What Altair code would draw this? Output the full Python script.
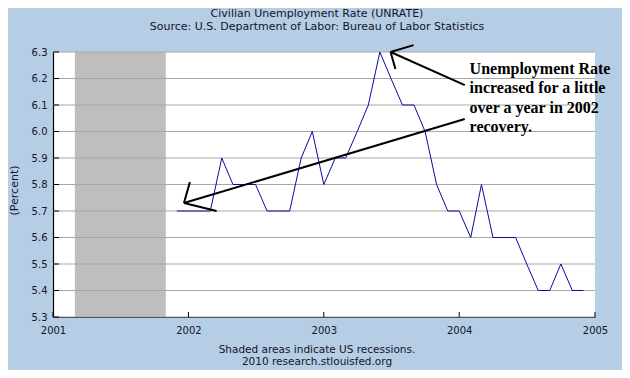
import altair as alt
import pandas as pd

# --- data -------------------------------------------------------------
months = pd.date_range("2001-12-01", "2004-12-01", freq="MS").strftime("%Y-%m-%d").tolist()
unrate = [5.7,
          5.7, 5.7, 5.7, 5.9, 5.8, 5.8, 5.8, 5.7, 5.7, 5.7, 5.9, 6.0,
          5.8, 5.9, 5.9, 6.0, 6.1, 6.3, 6.2, 6.1, 6.1, 6.0, 5.8, 5.7,
          5.7, 5.6, 5.8, 5.6, 5.6, 5.6, 5.5, 5.4, 5.4, 5.5, 5.4, 5.4]

recession_start = ["2001-03-01"]
recession_end = ["2001-11-01"]

y_ticks = [5.3, 5.4, 5.5, 5.6, 5.7, 5.8, 5.9, 6.0, 6.1, 6.2, 6.3]
x_years = ["2001-01-01", "2002-01-01", "2003-01-01", "2004-01-01", "2005-01-01"]

# annotation arrows (start -> end) in data coordinates
arrow_x = ["2004-01-16", "2002-01-05", "2002-03-18", "2004-01-16", "2003-08-31", "2003-07-13"]
arrow_y = [6.047, 5.809, 5.700, 6.175, 6.326, 6.236]
arrow_x2 = ["2001-12-20", "2001-12-20", "2001-12-20", "2003-06-30", "2003-06-30", "2003-06-30"]
arrow_y2 = [5.730, 5.730, 5.730, 6.300, 6.300, 6.300]

note_lines = ["Unemployment Rate", "increased for a little", "over a year in 2002", "recovery."]
note_y = [6.236, 6.164, 6.089, 6.017]
note_x = "2004-01-29"

title_lines = ["Civilian Unemployment Rate (UNRATE)",
               "Source: U.S. Department of Labor: Bureau of Labor Statistics"]
footer_lines = ["Shaded areas indicate US recessions.", "2010 research.stlouisfed.org"]

# --- styling ----------------------------------------------------------
BG = "#B5CDE5"
TXT = "#14142a"
FONT = "DejaVu Sans"
W, H = 542, 265

df = pd.DataFrame({"date": months, "value": unrate})
rec = pd.DataFrame({"start": recession_start, "end": recession_end})
arrows = pd.DataFrame({"x": arrow_x, "y": arrow_y, "x2": arrow_x2, "y2": arrow_y2})
notes = pd.DataFrame({"x": [note_x] * len(note_lines), "y": note_y, "t": note_lines})
yt = pd.DataFrame({"v": y_ticks})
xt = pd.DataFrame({"d": x_years})
titles = pd.DataFrame({"t": title_lines, "yy": [-38, -25]})
footers = pd.DataFrame({"t": footer_lines, "yy": [298, 310]})

xscale = alt.Scale(domain=["2001-01-01", "2005-01-01"], nice=False)
yscale = alt.Scale(domain=[5.3, 6.3], nice=False, zero=False)

x_axis = alt.Axis(
    title=None, values=[alt.DateTime(year=y) for y in range(2001, 2006)], format="%Y",
    labelPadding=8, tickCount=10,
)
y_axis = alt.Axis(
    title="(Percent)", values=y_ticks, format=".1f", labelPadding=6, tickCount=20,
    titleX=-39, titleY=138, titleAngle=-90, titleAlign="center", titleBaseline="middle",
)

grid_layer = alt.Chart(yt).mark_rule(color="#A6A6A6", strokeWidth=1).encode(
    y=alt.Y("v:Q", scale=yscale)
)

base_line = alt.Chart(df).mark_line(color="#0A0A9E", strokeWidth=1).encode(
    x=alt.X("date:T", scale=xscale, axis=x_axis),
    y=alt.Y("value:Q", scale=yscale, axis=y_axis),
)

recession = alt.Chart(rec).mark_rect(color="#BEBEBE").encode(
    x=alt.X("start:T", scale=xscale), x2="end:T"
)

arrow_layer = alt.Chart(arrows).mark_rule(color="black", strokeWidth=2).encode(
    x=alt.X("x:T", scale=xscale), y=alt.Y("y:Q", scale=yscale),
    x2="x2:T", y2="y2:Q",
)

note_layer = alt.Chart(notes).mark_text(
    align="left", baseline="middle", font="Liberation Serif", fontSize=16,
    fontWeight="bold", color="black",
).encode(x=alt.X("x:T", scale=xscale), y=alt.Y("y:Q", scale=yscale), text="t:N")

y_tick_layer = alt.Chart(yt).mark_rule(color="black", strokeWidth=1).encode(
    y=alt.Y("v:Q", scale=yscale), x=alt.value(0), x2=alt.value(6)
)
x_tick_layer = alt.Chart(xt).mark_rule(color="black", strokeWidth=1).encode(
    x=alt.X("d:T", scale=xscale), y=alt.value(H - 5), y2=alt.value(H)
)

title_layer = alt.Chart(titles).mark_text(
    font=FONT, fontSize=11, color=TXT, align="center", baseline="middle"
).encode(x=alt.value(264), y=alt.Y("yy:Q", scale=None), text="t:N")

footer_layer = alt.Chart(footers).mark_text(
    font=FONT, fontSize=10.5, color=TXT, align="center", baseline="middle"
).encode(x=alt.value(264), y=alt.Y("yy:Q", scale=None), text="t:N")

chart = alt.layer(
    recession, grid_layer, base_line, arrow_layer, note_layer, y_tick_layer, x_tick_layer,
    title_layer, footer_layer,
).properties(
    width=W, height=H,
    background=BG,
    padding={"left": 45, "top": 44, "right": 27, "bottom": 53},
    autosize=alt.AutoSizeParams(type="none"),
).configure_view(
    fill="white", stroke=None
).configure_axis(
    grid=False, ticks=False, domainColor="black", domainWidth=1.2,
    labelFont=FONT, labelFontSize=10, labelColor=TXT,
    labelOverlap=False, labelFlush=False, labelBound=False,
    titleFont=FONT, titleFontSize=11, titleFontWeight="normal", titleColor=TXT,
)

chart.save("out.html", embed_options={"renderer": "svg", "actions": False})
